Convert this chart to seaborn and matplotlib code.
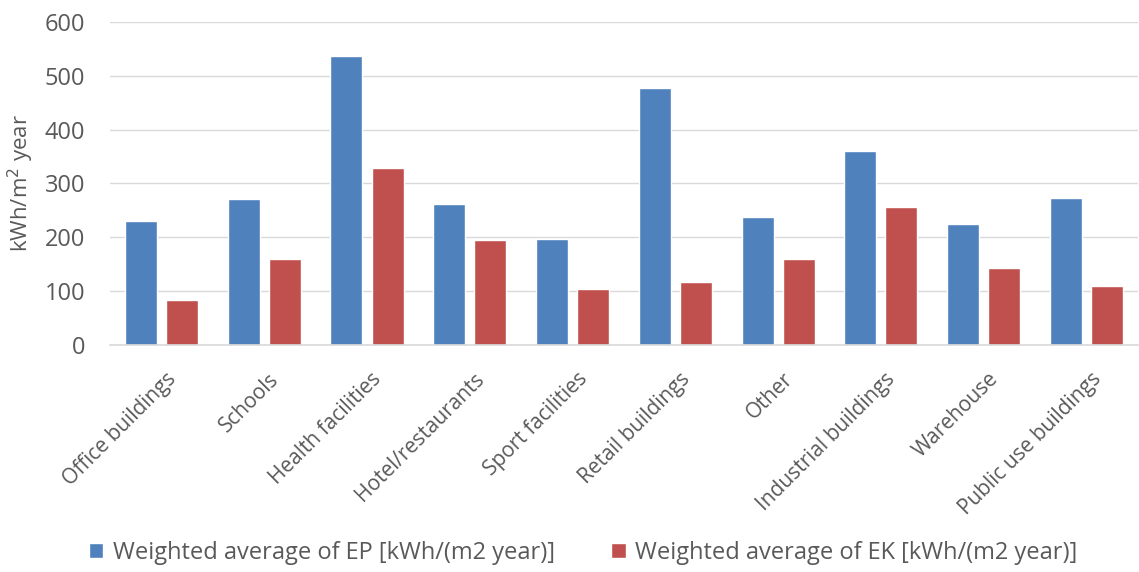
import numpy as np
import pandas as pd
import matplotlib
matplotlib.use("Agg")
import matplotlib.pyplot as plt
import matplotlib.transforms as mtransforms
import seaborn as sns

# Data
categories = ["Office buildings", "Schools", "Health facilities", "Hotel/restaurants",
              "Sport facilities", "Retail buildings", "Other", "Industrial buildings",
              "Warehouse", "Public use buildings"]
ep_values = [231, 271, 536, 262, 196, 477, 238, 361, 225, 273]
ek_values = [84, 160, 329, 195, 104, 116, 159, 256, 142, 110]
series = ["Weighted average of EP [kWh/(m2 year)]",
          "Weighted average of EK [kWh/(m2 year)]"]

df = pd.DataFrame({
    "category": categories * 2,
    "value": ep_values + ek_values,
    "series": [series[0]] * len(categories) + [series[1]] * len(categories),
})

sns.set_style("white")
plt.rcParams["font.family"] = ["Open Sans", "DejaVu Sans"]
text_col = "#595959"

fig = plt.figure(figsize=(11.39, 5.72), dpi=100)
ax = fig.add_axes([0.0966, 0.397, 0.9024, 0.5645])

sns.barplot(data=df, x="category", y="value", hue="series",
            palette=["#4F81BD", "#C0504D"], width=0.8, gap=0.22,
            saturation=1, ax=ax)

ax.set_ylim(0, 600)
ax.set_yticks(np.arange(0, 601, 100))
ax.set_xlim(-0.5, len(categories) - 0.5)
ax.yaxis.grid(True, color="#D9D9D9", linewidth=1)
ax.set_axisbelow(True)
for s in ["top", "right", "left"]:
    ax.spines[s].set_visible(False)
ax.spines["bottom"].set_color("#D9D9D9")
ax.spines["bottom"].set_linewidth(1.2)

ax.tick_params(axis="both", length=0, labelcolor=text_col)
ax.tick_params(axis="y", pad=18, labelsize=17)
ax.tick_params(axis="x", pad=17, labelsize=15)
ax.set_xticks(range(len(categories)))
ax.set_xticklabels(categories, rotation=45, ha="right", va="top",
                   rotation_mode="anchor")
shift = mtransforms.ScaledTranslation(4 / 100, 0, fig.dpi_scale_trans)
for lbl in ax.get_xticklabels():
    lbl.set_transform(lbl.get_transform() + shift)
ax.set_xlabel("")
ax.set_ylabel("kWh/m$^2$ year", fontsize=16, color=text_col, labelpad=6)

ax.legend_.remove()
handles, labels = ax.get_legend_handles_labels()
fig.legend(handles, labels, loc="center", bbox_to_anchor=(0.512, 0.033),
           ncol=2, frameon=False, fontsize=17, labelcolor=text_col,
           handlelength=0.6, handleheight=0.6, handletextpad=0.4,
           columnspacing=2.4, borderpad=0)

plt.savefig("out.png", dpi=100)
